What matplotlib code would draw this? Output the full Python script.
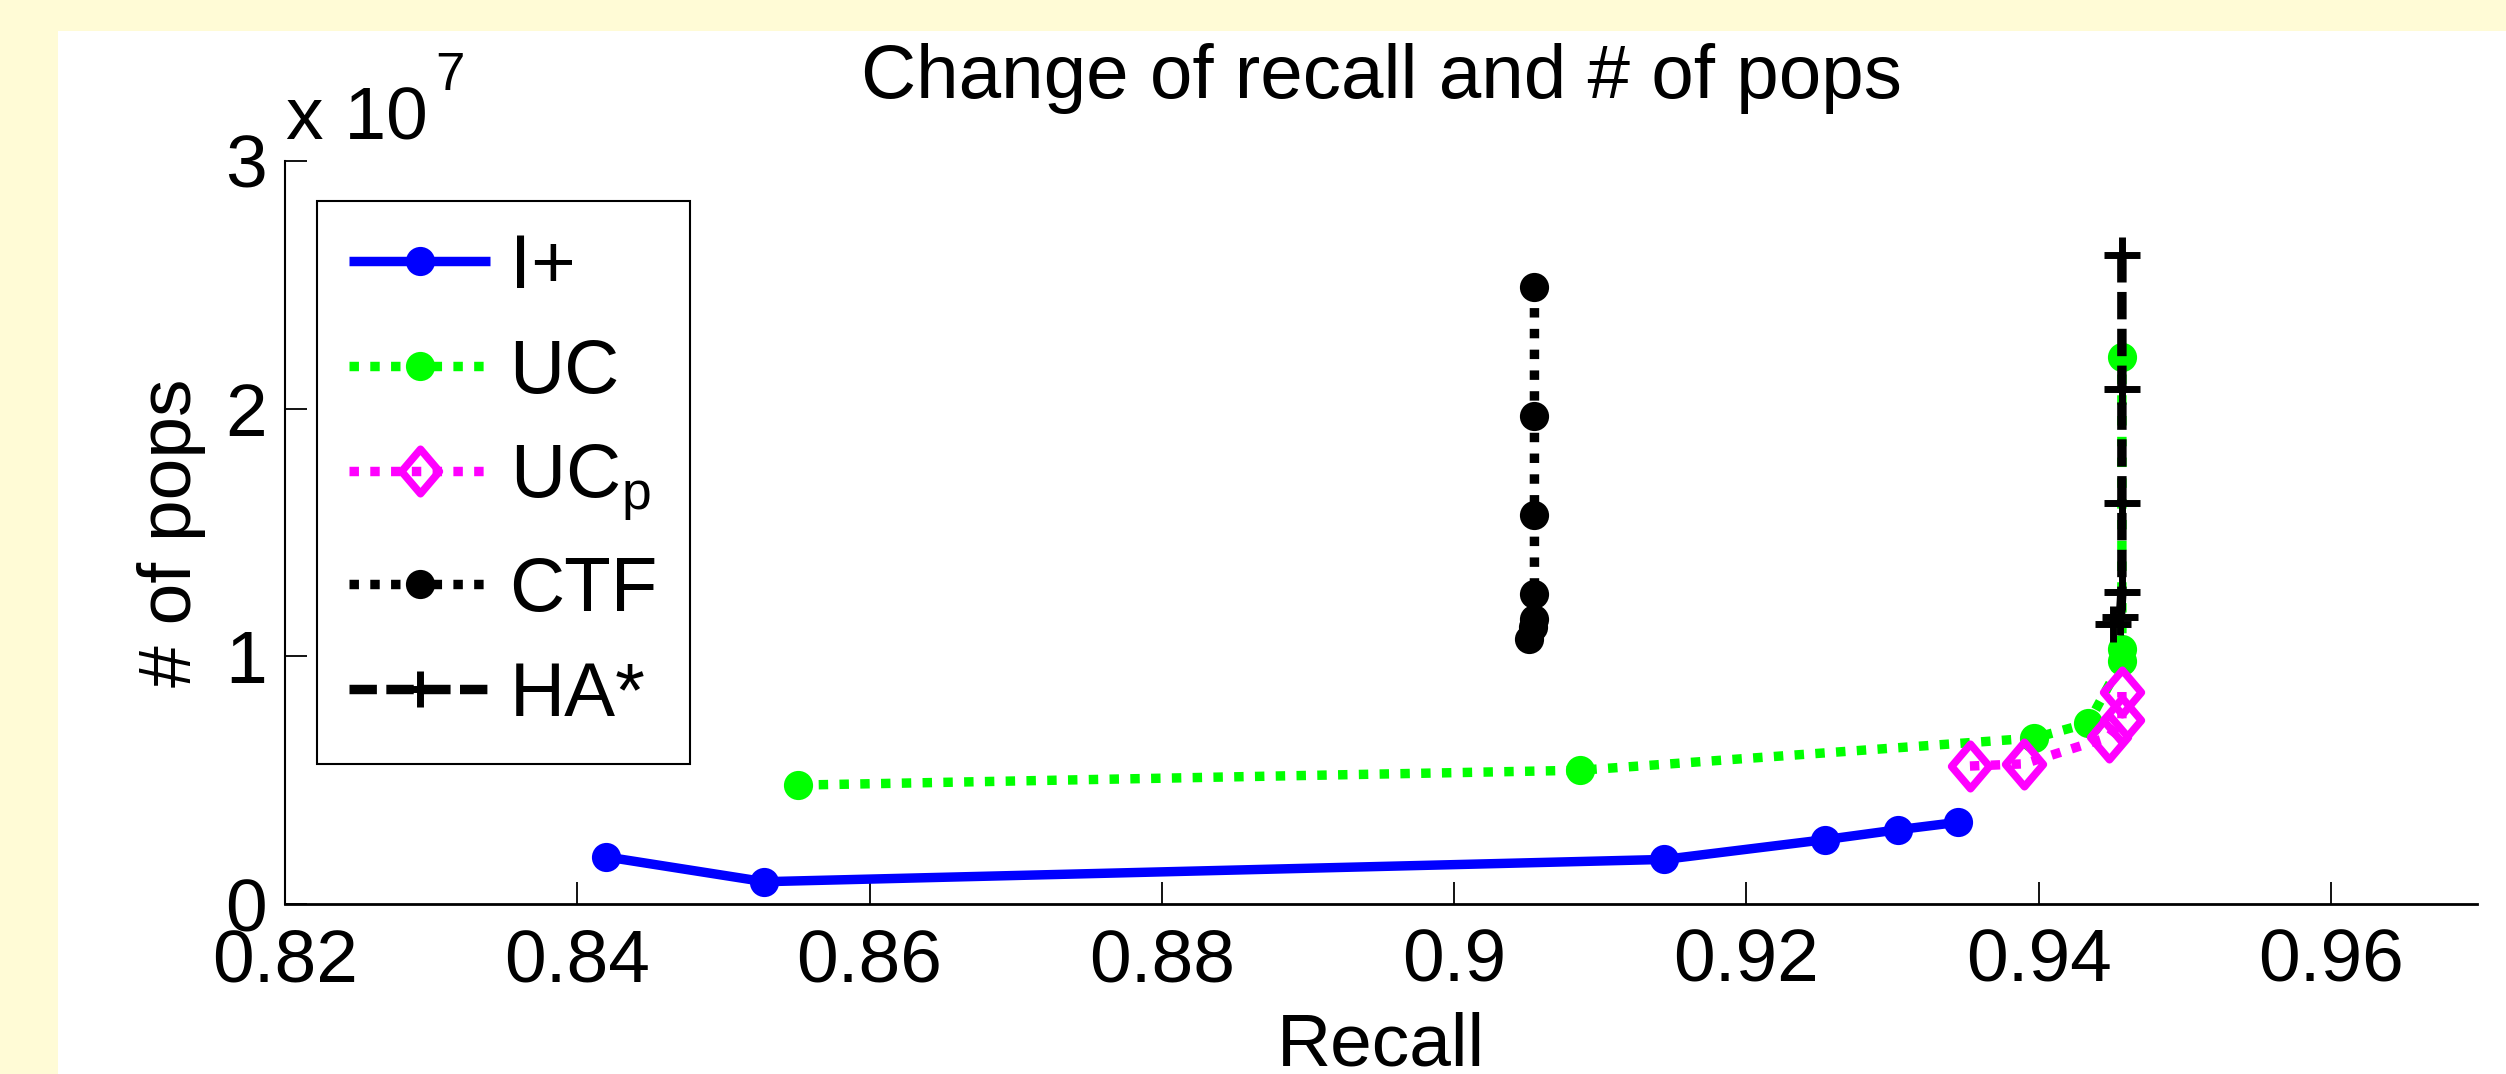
import matplotlib
matplotlib.use("Agg")
import matplotlib.pyplot as plt
from matplotlib.patches import Rectangle
from matplotlib.path import Path

plt.rcParams['font.family'] = ['Liberation Sans', 'DejaVu Sans']
plt.rcParams['mathtext.fontset'] = 'custom'
plt.rcParams['mathtext.rm'] = 'Liberation Sans'
plt.rcParams['mathtext.it'] = 'Liberation Sans'

# recall vs number of pops (in units of 1e7)
iplus_recall = [0.8420, 0.8528, 0.9144, 0.9254, 0.9304, 0.9345]
iplus_pops = [0.19, 0.09, 0.18, 0.26, 0.30, 0.33]
uc_recall = [0.8551, 0.9086, 0.9397, 0.9434, 0.9457, 0.9457, 0.9457]
uc_pops = [0.48, 0.54, 0.67, 0.73, 0.98, 1.03, 2.21]
ucp_recall = [0.9353, 0.9390, 0.9448, 0.9457, 0.9457]
ucp_pops = [0.557, 0.566, 0.674, 0.743, 0.856]
ctf_recall = [0.9055, 0.9055, 0.9055, 0.9055, 0.9055, 0.9054, 0.9051]
ctf_pops = [2.49, 1.97, 1.57, 1.25, 1.15, 1.12, 1.07]
ha_recall = [0.9457, 0.9457, 0.9457, 0.9457, 0.9456, 0.9451]
ha_pops = [2.62, 2.08, 1.62, 1.26, 1.16, 1.13]

labels = ['I+', 'UC', r'UC$_{\mathregular{p}}$', 'CTF', 'HA*']
xticks = [0.82, 0.84, 0.86, 0.88, 0.90, 0.92, 0.94, 0.96]
xticklabels = ['0.82', '0.84', '0.86', '0.88', '0.9', '0.92', '0.94', '0.96']
yticks = [0, 1, 2, 3]

W, H = 2506, 1074
fig = plt.figure(figsize=(W / 100, H / 100), dpi=100, facecolor='#FFFBD6')
# white figure area on the slide background
fig.patches.append(Rectangle((58 / W, 0), 1, 1 - 31 / H, transform=fig.transFigure,
                             facecolor='white', edgecolor='none', zorder=-10))

ax = fig.add_axes([285 / W, 1 - 904 / H, (2477 - 285) / W, (904 - 161) / H])
ax.set_facecolor('none')

lw = 6.8
dot = (0, (1, 1.2))
dash = (0, (2.9, 1.0))
diamond = Path([(0, 1), (0.85, 0), (0, -1), (-0.85, 0), (0, 1)],
               [Path.MOVETO, Path.LINETO, Path.LINETO, Path.LINETO, Path.CLOSEPOLY])

h1, = ax.plot(iplus_recall, iplus_pops, color='#0000FF', lw=lw, ls='-',
              marker='o', ms=19, mew=2, solid_capstyle='butt')
h2, = ax.plot(uc_recall, uc_pops, color='#00FF00', lw=lw, ls=dot,
              marker='o', ms=19, mew=2, dash_capstyle='butt')
h3, = ax.plot(ucp_recall, ucp_pops, color='#FF00FF', lw=lw, ls=dot,
              marker=diamond, ms=32, mew=5.5, mfc='none', dash_capstyle='butt')
h4, = ax.plot(ctf_recall, ctf_pops, color='black', lw=lw, ls=dot,
              marker='o', ms=19, mew=2, dash_capstyle='butt')
h5, = ax.plot(ha_recall, ha_pops, color='black', lw=lw, ls=dash,
              marker='+', ms=26, mew=5, dash_capstyle='butt')

ax.set_xlim(0.82, 0.97)
ax.set_ylim(0, 3)
ax.set_xticks(xticks)
ax.set_xticklabels(xticklabels)
ax.set_yticks(yticks)
ax.set_yticklabels([str(t) for t in yticks])
ax.tick_params(direction='in', length=16, width=1.3, labelsize=54, colors='black')
ax.tick_params(axis='x', pad=17)
ax.tick_params(axis='y', pad=13)
for s in ['top', 'right']:
    ax.spines[s].set_visible(False)
ax.spines['left'].set_linewidth(1.5)
ax.spines['bottom'].set_linewidth(2)

ax.set_title('Change of recall and # of pops', fontsize=55, pad=45)
ax.set_xlabel('Recall', fontsize=54, labelpad=11)
ax.set_ylabel('# of pops', fontsize=54, labelpad=14)

# exponent label in the MATLAB style
fig.text(286 / W, 1 - 140 / H, 'x 10', fontsize=54, va='baseline', ha='left')
fig.text(435 / W, 1 - 90 / H, '7', fontsize=38, va='baseline', ha='left')

leg = ax.legend([h1, h2, h3, h4, h5], labels, loc='upper left',
                bbox_to_anchor=(0.0146, 0.946), borderaxespad=0, fancybox=False,
                edgecolor='black', framealpha=1, handlelength=1.85, handletextpad=0.25,
                borderpad=0.42, labelspacing=0.44, fontsize=55, numpoints=1)
leg.get_frame().set_linewidth(1.5)

plt.savefig('out.png', dpi=100, facecolor=fig.get_facecolor())
